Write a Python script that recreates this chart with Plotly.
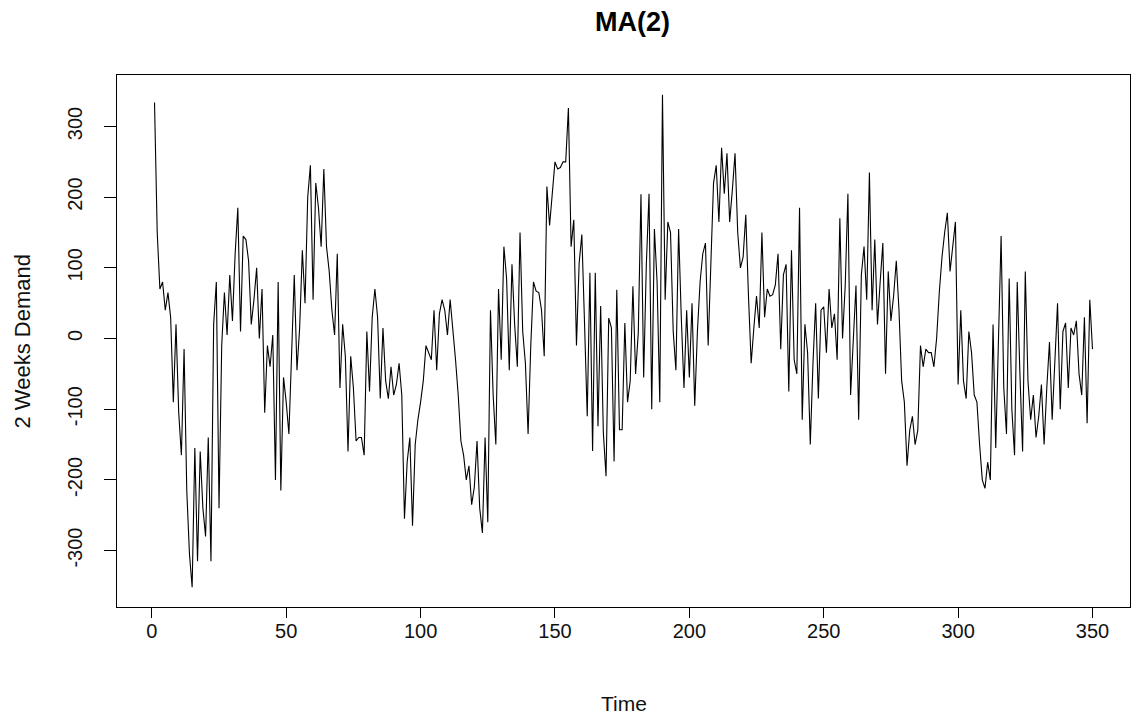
import plotly.graph_objects as go

title = "MA(2)"
x_label = "Time"
y_label = "2 Weeks Demand"

v1 = [334, 150, 70, 80, 40, 65, 30, -90, 20, -105, -165, -15, -215, -305, -352, -155, -315, -160, -240, -280,
      -140, -315, 20, 80, -240, -10, 65, 5, 90, 25, 120, 185, 10, 145]
v2 = [140, 110, 20, 55, 100, 0, 70, -105, -10, -40, 5, -200, 80, -215, -55, -90, -135, -20, 90, -45,
      15, 125, 50, 200, 245, 55, 220, 185, 130, 240, 130, 95, 40, 5, 120, -70]
v3 = [20, -25, -160, -25, -70, -145, -140, -140, -165, 10, -75, 30, 70, 30, -85, 15, -60, -85, -40, -80,
      -65, -35, -80, -255, -175, -140, -265, -150, -115, -90, -60, -10, -20, -30, 40]
v4 = [-45, 35, 55, 40, 5, 55, 15, -30, -80, -145, -165, -200, -180, -235, -210, -145, -240, -275, -140, -260,
      40, -80, -150, 70, -30, 130, 85, -45, 105, 20, -40, 150, 10, -35, -135, -10]
v5 = [80, 67, 65, 40, -25, 215, 160, 200, 250, 240, 242, 250, 250, 326, 130, 168, -10, 107, 147, 22,
      -110, 93, -159, 93, -124, 46, -133, -195, 29, 15, -174, 69, -129, -129, 22, -90]
v6 = [-60, 74, -50, 8, 204, -55, 105, 205, -100, 155, 80, -90, 345, 55, 165, 150, 10, -45, 155, 30,
      -70, 40, -55, 50, -95, 10, 80, 120, 135, -10, 110, 220, 245, 165, 270, 205]
v7 = [262, 165, 210, 262, 150, 100, 115, 175, 60, -35, 15, 60, 15, 150, 30, 70, 60, 62, 76, 120,
      -15, 90, 105, -75, 125, -30, -50, 185, -115, 20, -20, -150, -35, 50, -85]
v8 = [40, 45, -20, 70, 15, 35, -30, 170, 0, 75, 205, -80, 5, 75, -115, 90, 130, 55, 235, 40,
      140, 20, 80, 135, -50, 95, 25, 60, 110, 40, -60, -90, -180, -130, -110, -150]
v9 = [-130, -10, -40, -15, -20, -20, -40, 0, 65, 115, 150, 178, 95, 130, 165, -65, 40, -60, -85, 10,
      -20, -80, -90, -150, -200, -212, -175, -200, 20, -155, 15, 145, -70, -135, 85]
v10 = [-100, -165, 80, -50, -160, 95, -60, -115, -80, -140, -110, -65, -150, -70, -5, -115, -30, 50, -100, 10,
       22, -70, 15, 5, 25, -50, -80, 30, -120, 55, -15]

demand = v1 + v2 + v3 + v4 + v5 + v6 + v7 + v8 + v9 + v10
time = list(range(1, len(demand) + 1))

x_ticks = [0, 50, 100, 150, 200, 250, 300, 350]
y_ticks = [-300, -200, -100, 0, 100, 200, 300]

# R-style 4% range padding
def pad(lo, hi):
    d = (hi - lo) * 0.04
    return [lo - d, hi + d]

xr = pad(min(time), max(time))
yr = pad(min(demand), max(demand))

fig = go.Figure()
fig.add_trace(go.Scatter(x=time, y=demand, mode="lines",
                         line=dict(color="black", width=1.1), showlegend=False,
                         hoverinfo="x+y"))

font_family = "Liberation Sans, Arial, sans-serif"
axis_common = dict(showgrid=False, zeroline=False, showline=True, linecolor="black",
                   linewidth=1, mirror=True, ticks="outside", tickcolor="black",
                   tickwidth=1, tickfont=dict(family=font_family, size=20, color="#111"))

# page body has an 8px margin, so the figure is sized/positioned to compensate
fig.update_layout(
    width=1138, height=707,
    margin=dict(l=109, r=16, t=67, b=108),
    paper_bgcolor="white", plot_bgcolor="white",
    title=dict(text="<b>" + title + "</b>", x=0.5488, xanchor="center", y=0.981, yanchor="middle",
               font=dict(family=font_family, size=27, color="black")),
    xaxis=dict(range=xr, tickvals=x_ticks, ticktext=[str(t) for t in x_ticks],
               ticklen=10, ticklabelstandoff=-4, **axis_common),
    yaxis=dict(range=yr, tickvals=y_ticks, ticktext=[str(t) for t in y_ticks], tickangle=-90,
               ticklen=12, ticklabelstandoff=14, **axis_common),
    annotations=[
        dict(text=x_label, xref="paper", yref="paper", x=0.5, y=-0.181, xanchor="center",
             yanchor="middle", showarrow=False, font=dict(family=font_family, size=21, color="#111")),
        dict(text=y_label, xref="paper", yref="paper", x=-0.0933, y=0.5, xanchor="center",
             yanchor="middle", textangle=-90, showarrow=False,
             font=dict(family=font_family, size=22, color="#111")),
    ],
)

fig.write_html("out.html")
